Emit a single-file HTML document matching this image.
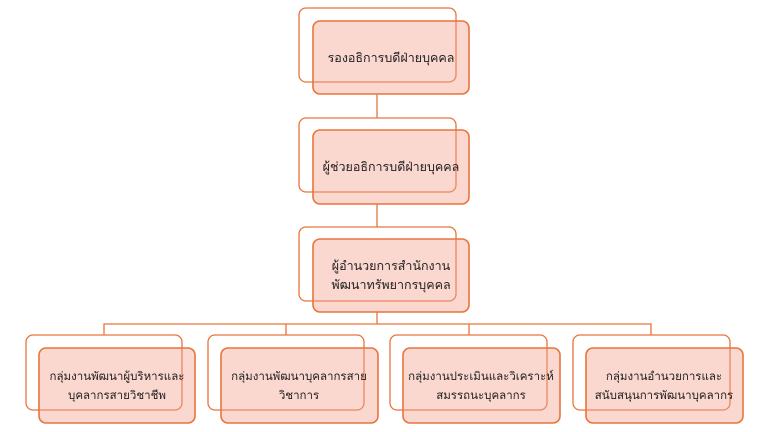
<!DOCTYPE html>
<html><head><meta charset="utf-8"><style>
html,body{margin:0;padding:0;background:#fff;width:768px;height:432px;overflow:hidden}
text{font-family:"Liberation Sans","DejaVu Sans",sans-serif;font-size:12.5px;fill:#222;text-anchor:middle}
text.s{font-size:11.5px}
</style></head><body>
<svg width="768" height="432" viewBox="0 0 768 432" xmlns="http://www.w3.org/2000/svg">
<g stroke="#e8743c" stroke-width="1.3" fill="none">
<line x1="377" y1="94" x2="377" y2="118"/>
<line x1="377" y1="204" x2="377" y2="227"/>
<line x1="377" y1="312" x2="377" y2="324"/>
<polyline points="104,335 104,324 651,324 651,335"/>
<line x1="286" y1="324" x2="286" y2="335"/>
<line x1="469" y1="324" x2="469" y2="335"/>
</g>
<g stroke="#e8743c" stroke-width="1.3" fill="#fff">
<rect x="299" y="8" width="157" height="74" rx="7"/>
<rect x="299" y="118" width="157" height="74" rx="7"/>
<rect x="299" y="227" width="157" height="74" rx="7"/>
<rect x="26" y="335" width="156" height="75" rx="7"/>
<rect x="208" y="335" width="156" height="75" rx="7"/>
<rect x="390" y="335" width="157" height="75" rx="7"/>
<rect x="573" y="335" width="157" height="75" rx="7"/>
</g>
<g stroke="#e8743c" stroke-width="1.6" fill="rgba(242,160,140,0.42)">
<rect x="313" y="21" width="156" height="73" rx="7"/>
<rect x="313" y="130" width="156" height="74" rx="7"/>
<rect x="313" y="239" width="156" height="73" rx="7"/>
<rect x="39" y="348" width="156" height="75" rx="7"/>
<rect x="221" y="348" width="157" height="75" rx="7"/>
<rect x="403" y="348" width="157" height="75" rx="7"/>
<rect x="586" y="348" width="157" height="75" rx="7"/>
</g>
<text x="391" y="62">รองอธิการบดีฝ่ายบุคคล</text>
<text x="391" y="171">ผู้ช่วยอธิการบดีฝ่ายบุคคล</text>
<text x="391" y="270">ผู้อำนวยการสำนักงาน</text>
<text x="391" y="289">พัฒนาทรัพยากรบุคคล</text>
<text class="s" x="117" y="380">กลุ่มงานพัฒนาผู้บริหารและ</text>
<text class="s" x="117" y="399">บุคลากรสายวิชาชีพ</text>
<text class="s" x="299" y="380">กลุ่มงานพัฒนาบุคลากรสาย</text>
<text class="s" x="299" y="399">วิชาการ</text>
<text class="s" x="481" y="380">กลุ่มงานประเมินและวิเคราะห์</text>
<text class="s" x="481" y="399">สมรรถนะบุคลากร</text>
<text class="s" x="664" y="380">กลุ่มงานอำนวยการและ</text>
<text class="s" x="664" y="399">สนับสนุนการพัฒนาบุคลากร</text>
</svg>
</body></html>
